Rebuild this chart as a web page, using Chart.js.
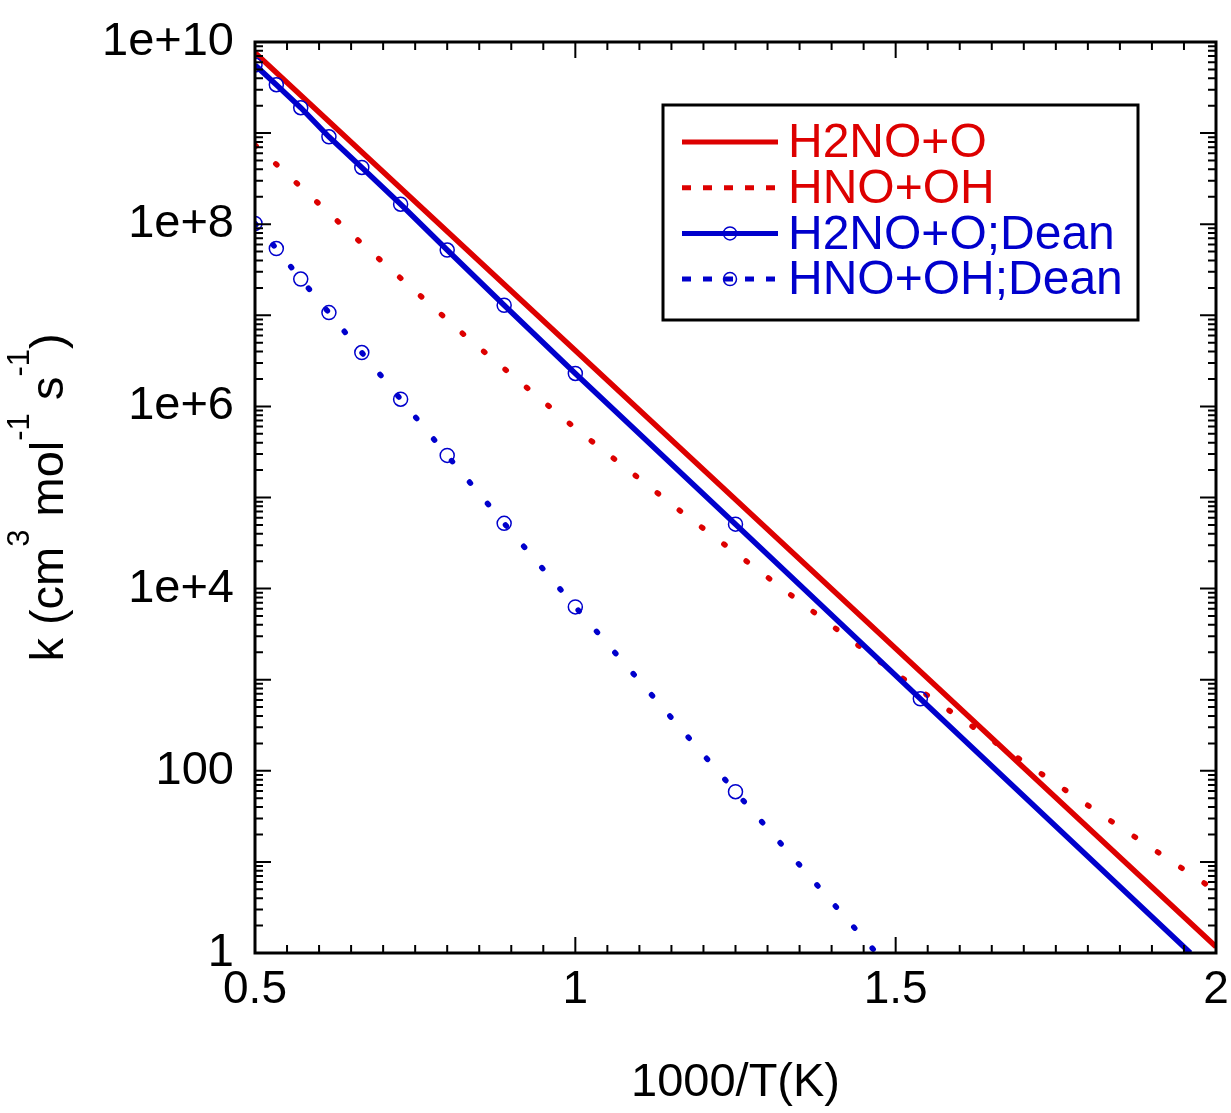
<!DOCTYPE html>
<html>
<head>
<meta charset="utf-8">
<title>k vs 1000/T</title>
<script src="https://cdn.jsdelivr.net/npm/chart.js@4.4.0/dist/chart.umd.min.js"></script>
<style>
  html, body { margin: 0; padding: 0; background: #fff; }
</style>
</head>
<body>
<canvas id="rateChart" width="1231" height="1113"></canvas>
<script>
// 1000/T of the Dean points (T = 2000 ... 1000, 800, 650 K)
const invTDean = [0.5, 0.5333, 0.5714, 0.6154, 0.6667, 0.7273, 0.8, 0.8889, 1.0, 1.25, 1.5385];

// H2NO+O, red solid
const invTH2NO = [0.5, 1.0, 1.5, 2.0];
const kH2NO = [7.6e9, 4.1e6, 2.2e3, 1.17];

// HNO+OH, red dotted
const invTHNO = [0.5, 0.531, 0.666, 0.83, 0.998, 1.164, 1.331, 1.498, 1.664, 1.83, 2.0];
const kHNO = [7.4e8, 4.7e8, 6.2e7, 5.8e6, 5.9e5, 7.1e4, 9.1e3, 1.2e3, 186, 30, 4.8];

// Dean values (circles)
const kDeanH2NO = [5.6e9, 3.4e9, 1.9e9, 9.1e8, 4.2e8, 1.66e8, 5.2e7, 1.29e7, 2.3e6, 5.1e4, 617];
const kDeanHNO = [1.02e8, 5.4e7, 2.5e7, 1.07e7, 3.9e6, 1.2e6, 2.9e5, 5.2e4, 6.3e3, 59];
// where the Dean lines leave the bottom of the plot [1000/T, k]
const deanH2NOEnd = [1.96, 1];
const deanHNOEnd = [1.47, 1];

const xTicks = [0.5, 1, 1.5, 2];
const yTickValues = [1, 100, 1e4, 1e6, 1e8, 1e10];
const yTickLabels = ['1', '100', '1e+4', '1e+6', '1e+8', '1e+10'];

const RED = '#dd0000';
const BLUE = '#0000cc';
const FONT = '"Liberation Sans", Arial, Helvetica, sans-serif';

function pairs(xs, ys) {
    return ys.map((y, i) => ({ x: xs[i], y: y }));
}

function deanLine(ks, end) {
    return pairs(invTDean, ks).concat([{ x: end[0], y: end[1] }]);
}

// circles only on the Dean points, not on the end point
function deanRadius(ks) {
    return ctx => ctx.dataIndex < ks.length ? 7 : 0;
}

// axis box + inward ticks on all four sides
const frame = {
    id: 'frame',
    afterDraw(chart) {
        const { ctx, chartArea: a, scales: { x, y } } = chart;
        ctx.save();
        ctx.strokeStyle = '#000';
        ctx.lineWidth = 2;
        ctx.beginPath();
        for (let i = 0; i <= 30; i++) {
            const px = x.getPixelForValue(0.5 + i * 0.05);
            const len = i % 10 === 0 ? 16 : 8;
            ctx.moveTo(px, a.bottom); ctx.lineTo(px, a.bottom - len);
            ctx.moveTo(px, a.top); ctx.lineTo(px, a.top + len);
        }
        for (let e = 0; e <= 10; e++) {
            for (let m = 1; m <= 9; m++) {
                if (e === 10 && m > 1) break;
                const py = y.getPixelForValue(m * Math.pow(10, e));
                const len = m === 1 ? 16 : 8;
                ctx.moveTo(a.left, py); ctx.lineTo(a.left + len, py);
                ctx.moveTo(a.right, py); ctx.lineTo(a.right - len, py);
            }
        }
        ctx.stroke();
        ctx.lineWidth = 3;
        ctx.strokeRect(a.left, a.top, a.right - a.left, a.bottom - a.top);
        ctx.restore();
    }
};

// boxed legend in the top right corner of the plot
const legendBox = {
    id: 'legendBox',
    afterDraw(chart) {
        const { ctx, chartArea: a } = chart;
        const left = a.right - 553, top = a.top + 63, w = 475, h = 215;
        ctx.save();
        ctx.fillStyle = '#fff';
        ctx.fillRect(left, top, w, h);
        ctx.strokeStyle = '#000';
        ctx.lineWidth = 3;
        ctx.strokeRect(left, top, w, h);
        ctx.font = '48px ' + FONT;
        ctx.textBaseline = 'middle';
        chart.data.datasets.forEach((ds, i) => {
            const cy = top + 37 + i * 45.7;
            ctx.strokeStyle = ds.borderColor;
            ctx.lineWidth = 5;
            ctx.lineCap = 'butt';
            ctx.setLineDash(ds.borderDash && ds.borderDash.length ? [9, 12] : []);
            ctx.beginPath();
            ctx.moveTo(left + 19, cy);
            ctx.lineTo(left + 115, cy);
            ctx.stroke();
            ctx.setLineDash([]);
            if (ds.legendMarker) {
                ctx.lineWidth = 1.5;
                ctx.beginPath();
                ctx.arc(left + 67, cy, 6.5, 0, Math.PI * 2);
                ctx.stroke();
            }
            ctx.fillStyle = ds.borderColor;
            ctx.fillText(ds.label, left + 125, cy + 2);
        });
        ctx.restore();
    }
};

// y title with superscripts
const yTitle = {
    id: 'yTitle',
    afterDraw(chart) {
        const { ctx, chartArea: a } = chart;
        const parts = [['k (cm', false], ['3', true], [' mol', false], ['-1', true],
                       [' s', false], ['-1', true], [')', false]];
        const mainFont = '47px ' + FONT, supFont = '31px ' + FONT;
        ctx.save();
        let total = 0;
        parts.forEach(p => {
            ctx.font = p[1] ? supFont : mainFont;
            total += ctx.measureText(p[0]).width;
        });
        ctx.translate(63, (a.top + a.bottom) / 2);
        ctx.rotate(-Math.PI / 2);
        ctx.fillStyle = '#000';
        ctx.textBaseline = 'alphabetic';
        let pos = -total / 2;
        parts.forEach(p => {
            ctx.font = p[1] ? supFont : mainFont;
            ctx.fillText(p[0], pos, p[1] ? -34 : 0);
            pos += ctx.measureText(p[0]).width;
        });
        ctx.restore();
    }
};

new Chart(document.getElementById('rateChart'), {
    type: 'line',
    data: {
        datasets: [{
            label: 'H2NO+O',
            data: pairs(invTH2NO, kH2NO),
            borderColor: RED,
            borderWidth: 5.5,
            pointRadius: 0,
            order: 1
        }, {
            label: 'HNO+OH',
            data: pairs(invTHNO, kHNO),
            borderColor: RED,
            borderWidth: 5.5,
            borderDash: [1.5, 26.5],
            borderCapStyle: 'round',
            pointRadius: 0,
            order: 1
        }, {
            label: 'H2NO+O;Dean',
            data: deanLine(kDeanH2NO, deanH2NOEnd),
            borderColor: BLUE,
            borderWidth: 5.5,
            pointRadius: deanRadius(kDeanH2NO),
            pointBorderColor: BLUE,
            pointBorderWidth: 1.5,
            pointBackgroundColor: 'rgba(0,0,0,0)',
            legendMarker: true,
            order: 0
        }, {
            label: 'HNO+OH;Dean',
            data: deanLine(kDeanHNO, deanHNOEnd),
            borderColor: BLUE,
            borderWidth: 5.5,
            borderDash: [1.5, 26.5],
            borderCapStyle: 'round',
            pointRadius: deanRadius(kDeanHNO),
            pointBorderColor: BLUE,
            pointBorderWidth: 1.5,
            pointBackgroundColor: 'rgba(0,0,0,0)',
            legendMarker: true,
            order: 0
        }]
    },
    options: {
        responsive: false,
        animation: false,
        devicePixelRatio: 1,
        layout: { padding: { left: 0, right: 15, top: 42, bottom: 0 } },
        elements: { line: { tension: 0, fill: false } },
        plugins: {
            legend: { display: false },
            tooltip: { enabled: false }
        },
        scales: {
            x: {
                type: 'linear',
                min: 0.5,
                max: 2,
                afterBuildTicks: s => { s.ticks = xTicks.map(v => ({ value: v })); },
                afterFit: s => { s.height = 160; s.paddingLeft = 0; s.paddingRight = 0; },
                grid: { display: false, drawTicks: false },
                border: { display: false },
                ticks: {
                    color: '#000',
                    font: { family: FONT, size: 46 },
                    padding: 10,
                    maxRotation: 0,
                    autoSkip: false,
                    callback: v => String(v)
                },
                title: {
                    display: true,
                    text: '1000/T(K)',
                    color: '#000',
                    font: { family: FONT, size: 47 },
                    padding: { top: 0, bottom: 2 }
                }
            },
            y: {
                type: 'logarithmic',
                min: 1,
                max: 1e10,
                afterBuildTicks: s => { s.ticks = yTickValues.map(v => ({ value: v })); },
                afterFit: s => { s.width = 255; s.paddingTop = 0; s.paddingBottom = 0; },
                grid: { display: false, drawTicks: false },
                border: { display: false },
                ticks: {
                    color: '#000',
                    font: { family: FONT, size: 47 },
                    padding: 21,
                    autoSkip: false,
                    callback: v => {
                        const i = yTickValues.indexOf(v);
                        return i >= 0 ? yTickLabels[i] : '';
                    }
                }
            }
        }
    },
    plugins: [frame, legendBox, yTitle]
});
</script>
</body>
</html>
